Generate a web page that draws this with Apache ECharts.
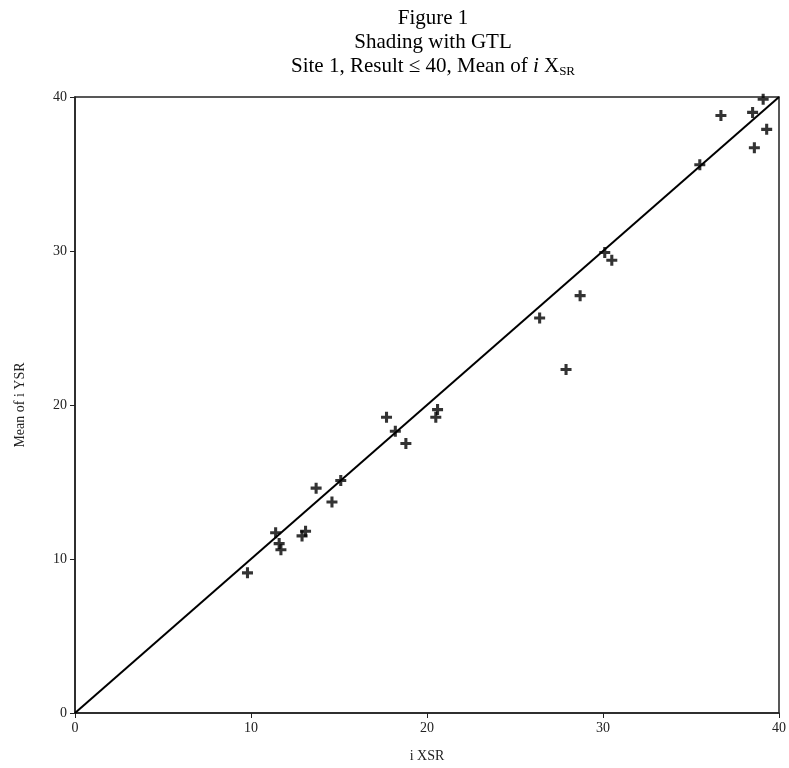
<!DOCTYPE html>
<html>
<head>
<meta charset="utf-8">
<script src="https://cdn.jsdelivr.net/npm/echarts@6/dist/echarts.min.js"></script>
<style>html,body{margin:0;padding:0;background:#fff}#c{width:789px;height:768px}</style>
</head>
<body>
<div id="c"></div>
<script>
const xValues = [9.8, 11.4, 11.6, 11.7, 12.9, 13.1, 13.7, 14.6, 15.1, 17.7, 18.2, 18.8, 20.5, 20.6, 26.4, 27.9, 28.7, 30.1, 30.5, 35.5, 36.7, 38.5, 38.6, 39.1, 39.3];
const yValues = [9.1, 11.7, 11.0, 10.6, 11.5, 11.8, 14.6, 13.7, 15.1, 19.2, 18.3, 17.5, 19.2, 19.7, 25.65, 22.3, 27.1, 29.9, 29.4, 35.6, 38.8, 39.0, 36.7, 39.85, 37.9];
const refLineX = [0, 40];
const refLineY = [0, 40];
const axisTicks = [0, 10, 20, 30, 40];

const font = 'Liberation Serif';
const chart = echarts.init(document.getElementById('c'), null, {renderer: 'canvas'});
chart.setOption({
  animation: false,
  backgroundColor: '#fff',
  title: {
    left: 428, textAlign: 'center', top: 1,
    text: 'Figure 1\nShading with GTL\nSite 1, Result \u2264 40, Mean of {i|i} X{sub|SR}',
    textStyle: {
      fontFamily: font, fontSize: 21, fontWeight: 'normal', color: '#000', lineHeight: 24,
      rich: {
        i: {fontFamily: font, fontSize: 21, fontStyle: 'italic', color: '#000', lineHeight: 24},
        sub: {fontFamily: font, fontSize: 13, color: '#000', verticalAlign: 'bottom', padding: [9, 0, 0, 0], lineHeight: 24}
      }
    }
  },
  grid: {left: 75, right: 7, top: 97, bottom: 52, show: true, borderColor: '#222', borderWidth: 1.5, containLabel: false},
  xAxis: {
    type: 'value', min: axisTicks[0], max: axisTicks[axisTicks.length - 1], interval: 10,
    name: 'i XSR', nameLocation: 'middle', nameGap: 36,
    nameTextStyle: {fontFamily: font, fontSize: 14, color: '#222'},
    axisLine: {show: true, lineStyle: {color: '#222', width: 1.5}},
    axisTick: {show: true, inside: false, length: 5, lineStyle: {color: '#222'}},
    axisLabel: {fontFamily: font, fontSize: 14, color: '#222', margin: 8},
    splitLine: {show: false}
  },
  yAxis: {
    type: 'value', min: axisTicks[0], max: axisTicks[axisTicks.length - 1], interval: 10,
    name: 'Mean of i YSR', nameLocation: 'middle', nameGap: 48, nameRotate: 90,
    nameTextStyle: {fontFamily: font, fontSize: 14, color: '#222'},
    axisLine: {show: true, lineStyle: {color: '#222', width: 1.5}},
    axisTick: {show: true, inside: false, length: 5, lineStyle: {color: '#222'}},
    axisLabel: {fontFamily: font, fontSize: 14, color: '#222', margin: 8},
    splitLine: {show: false}
  },
  series: [
    {
      type: 'line', data: refLineX.map((x, i) => [x, refLineY[i]]),
      showSymbol: false, symbol: 'none',
      lineStyle: {color: '#000', width: 2}, z: 2
    },
    {
      type: 'scatter', data: xValues.map((x, i) => [x, yValues[i]]),
      symbol: 'path://M3.6,0h2.8v3.6h3.6v2.8h-3.6v3.6h-2.8v-3.6h-3.6v-2.8h3.6z', symbolSize: 11,
      itemStyle: {color: '#000'}, z: 3
    }
  ]
});
</script>
</body>
</html>
